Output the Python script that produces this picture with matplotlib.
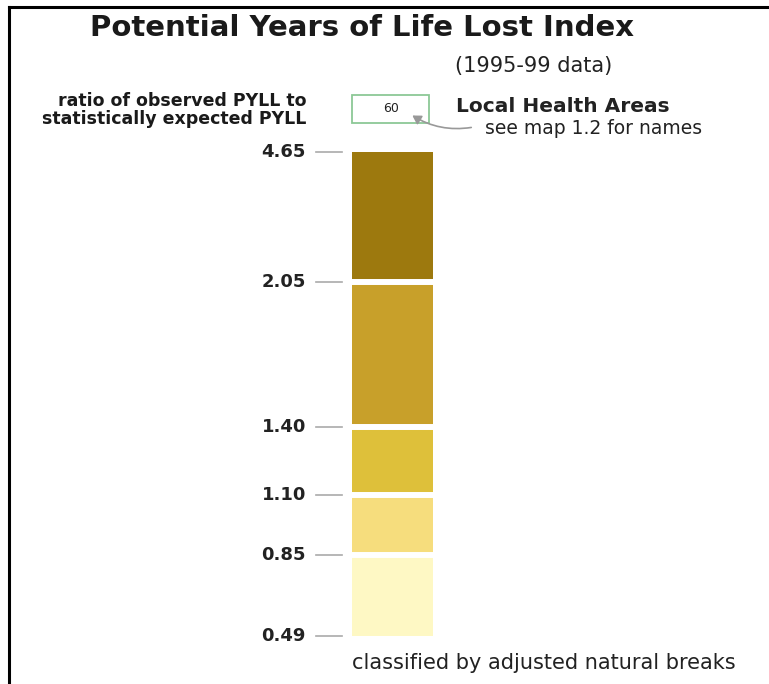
import matplotlib
matplotlib.use("Agg")
import matplotlib.pyplot as plt
from matplotlib.patches import Rectangle, FancyArrowPatch

plt.rcParams['font.family'] = ['DejaVu Sans']

# class breaks (PYLL index), bottom -> top
breaks = [0.49, 0.85, 1.10, 1.40, 2.05, 4.65]
break_labels = ["0.49", "0.85", "1.10", "1.40", "2.05", "4.65"]
# relative height of each class in the legend column
class_heights = [81, 60, 68, 145, 130]
class_colors = ["#FEF8C4", "#F6DD7D", "#DEC03A", "#C8A02A", "#9D790E"]

W, H = 769, 684
fig = plt.figure(figsize=(W / 100, H / 100), dpi=100)


def fx(px):
    return px / W


def fy(py):
    return 1 - py / H


# frame lines (top and left)
fig.add_artist(plt.Line2D([fx(9), fx(769)], [fy(7), fy(7)], color="black", lw=2.2))
fig.add_artist(plt.Line2D([fx(9), fx(9)], [fy(7), fy(684)], color="black", lw=2.2))

# legend column
ax = fig.add_axes([fx(352), fy(636), fx(433) - fx(352), fy(152) - fy(636)])
bottoms = [sum(class_heights[:i]) for i in range(len(class_heights))]
ax.bar(0.5, class_heights, bottom=bottoms, width=1.0, color=class_colors,
       edgecolor="none")
total = sum(class_heights)
ax.set_xlim(0, 1)
ax.set_ylim(0, total)
ax.axis("off")

tick_pos = bottoms + [total]
trans = ax.get_yaxis_transform()
for i, (p, lab) in enumerate(zip(tick_pos, break_labels)):
    if 0 < i < len(tick_pos) - 1:
        ax.axhline(p, color="white", lw=4.3)
    ax.plot([-0.45, -0.12], [p, p], color="#AAAAAA", lw=1.2,
            transform=trans, clip_on=False)
    ax.text(-0.57, p, lab, transform=trans, ha="right", va="center",
            fontsize=13, fontweight="bold", color="#222222")

# texts
fig.text(fx(362), fy(28), "Potential Years of Life Lost Index", ha="center",
         va="center", fontsize=21, fontweight="bold", color="#1a1a1a")
fig.text(fx(455), fy(66), "(1995-99 data)", ha="left", va="center",
         fontsize=15, color="#222222")
fig.text(fx(306), fy(110), "ratio of observed PYLL to\nstatistically expected PYLL",
         ha="right", va="center", fontsize=12.5, fontweight="bold",
         color="#1a1a1a", linespacing=1.0)
fig.text(fx(456), fy(106), "Local Health Areas", ha="left", va="center",
         fontsize=14.5, fontweight="bold", color="#222222")
fig.text(fx(485), fy(129), "see map 1.2 for names", ha="left", va="center",
         fontsize=13.5, color="#222222")
fig.text(fx(352), fy(663), "classified by adjusted natural breaks", ha="left",
         va="center", fontsize=15, color="#222222")

# sample label box
fig.add_artist(Rectangle((fx(352), fy(123)), fx(429) - fx(352), fy(95) - fy(123),
                         transform=fig.transFigure, fill=False,
                         edgecolor="#8CC896", lw=1.3))
fig.text(fx(391), fy(108), "60", ha="center", va="center", fontsize=9,
         color="#222222")
fig.add_artist(FancyArrowPatch((fx(474), fy(127)), (fx(410), fy(114)),
                               transform=fig.transFigure,
                               connectionstyle="arc3,rad=-0.2",
                               arrowstyle="-|>,head_length=5,head_width=3",
                               color="#999999", lw=1.2))

fig.savefig("out.png", dpi=100)
